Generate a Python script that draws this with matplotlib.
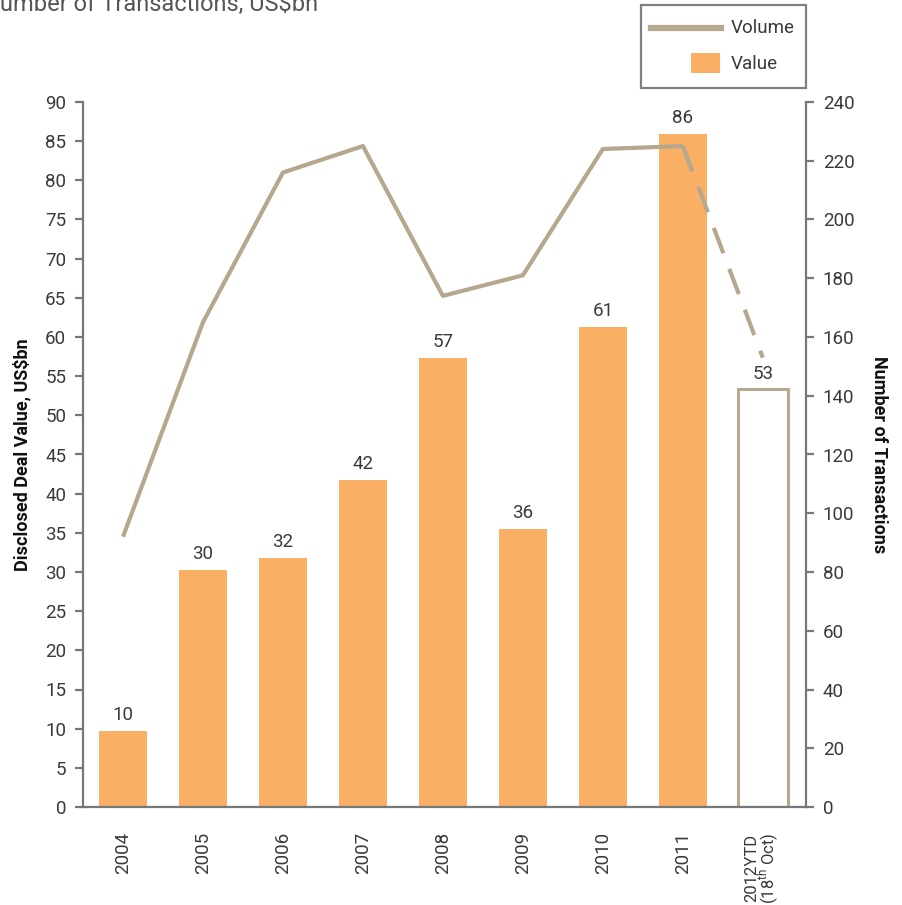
import matplotlib
matplotlib.use("Agg")
import matplotlib.pyplot as plt
from matplotlib.lines import Line2D
from matplotlib.patches import Rectangle

plt.rcParams['font.family'] = ['Roboto', 'DejaVu Sans']
plt.rcParams['mathtext.fontset'] = 'custom'
plt.rcParams['mathtext.rm'] = 'Roboto'

categories = ["2004", "2005", "2006", "2007", "2008", "2009", "2010", "2011",
              "2012YTD\n(18$^{\\rm th}$ Oct)"]
values = [9.7, 30.2, 31.8, 41.8, 57.3, 35.5, 61.3, 85.9, 53.3]
value_labels = ["10", "30", "32", "42", "57", "36", "61", "86", "53"]
volume = [92, 165, 216, 225, 174, 181, 224, 225, 153]

BAR = "#F9B064"
LINE = "#B5A88F"
SPINE = "#75787B"
TXT = "#3A3A3A"
FS = 13.5

fig = plt.figure(figsize=(9.02, 9.05), dpi=100)
ax = fig.add_axes([83/902, 98/905, 723/902, 705/905])
ax2 = ax.twinx()

x = list(range(len(categories)))
n_full = len(categories) - 1

ax.bar(x[:n_full], values[:n_full], width=0.6, color=BAR, zorder=2)
ax.bar(x[n_full], values[n_full], width=0.62, facecolor="white", edgecolor=LINE,
       linewidth=2.2, zorder=2)

for xi, v, lab in zip(x, values, value_labels):
    ax.annotate(lab, (xi, v), xytext=(0, 5), textcoords="offset points",
                ha="center", va="bottom", fontsize=FS, color=TXT)

ax.set_xlim(-0.5, 8.54)
ax.set_ylim(0, 90)
ax.set_yticks(range(0, 91, 5))
ax2.set_ylim(0, 240)
ax2.set_yticks(range(0, 241, 20))

ax2.plot(x[:n_full], volume[:n_full], color=LINE, linewidth=3, solid_capstyle="butt", zorder=3)
ax2.plot(x[n_full-1:], volume[n_full-1:], color=LINE, linewidth=3, linestyle=(0, (6.5, 4)),
         zorder=3)

ax.set_xticks(x)
ax.set_xticklabels(categories, rotation=90, fontsize=FS, color=TXT, va="top",
                   linespacing=0.8)
ax.get_xticklabels()[-1].set_fontsize(12)
ax.tick_params(axis="x", length=0, pad=18)

for a in (ax, ax2):
    a.spines["top"].set_visible(False)
    for s in ("left", "right", "bottom"):
        a.spines[s].set_color(SPINE)
        a.spines[s].set_linewidth(1.6)
ax.spines["right"].set_visible(False)
ax2.spines["left"].set_visible(False)
ax2.spines["bottom"].set_visible(False)

ax.tick_params(axis="y", direction="out", length=6, width=1.6, color=SPINE,
               labelsize=FS, labelcolor=TXT, pad=6)
ax2.tick_params(axis="y", direction="out", length=6, width=1.6, color=SPINE,
                labelsize=FS, labelcolor=TXT, pad=6)

ax.set_ylabel("Disclosed Deal Value, US$bn", fontsize=13, fontweight="bold",
              color="#111111", labelpad=10)
ax2.set_ylabel("Number of Transactions", fontsize=13, fontweight="bold",
               color="#111111", rotation=270, labelpad=24)

# title (partially cut at the left)
fig.text(318/902, 1 - 11/905, "Number of Transactions, US$bn", ha="right",
         va="baseline", fontsize=17, color="#555555")

# legend (manual)
fig.patches.append(Rectangle((641/902, 1 - 88/905), 165/902, 83/905,
                             transform=fig.transFigure, facecolor="white",
                             edgecolor="#808080", linewidth=1.6))
fig.lines.append(Line2D([651/902, 721/902], [1 - 28/905, 1 - 28/905],
                        transform=fig.transFigure, color=LINE, linewidth=4.5))
fig.patches.append(Rectangle((691/902, 1 - 73/905), 29/902, 20/905,
                             transform=fig.transFigure, facecolor=BAR, edgecolor="none"))
fig.text(731/902, 1 - 28/905, "Volume", ha="left", va="center", fontsize=FS, color=TXT)
fig.text(731/902, 1 - 64/905, "Value", ha="left", va="center", fontsize=FS, color=TXT)

fig.savefig("out.png", dpi=100)
